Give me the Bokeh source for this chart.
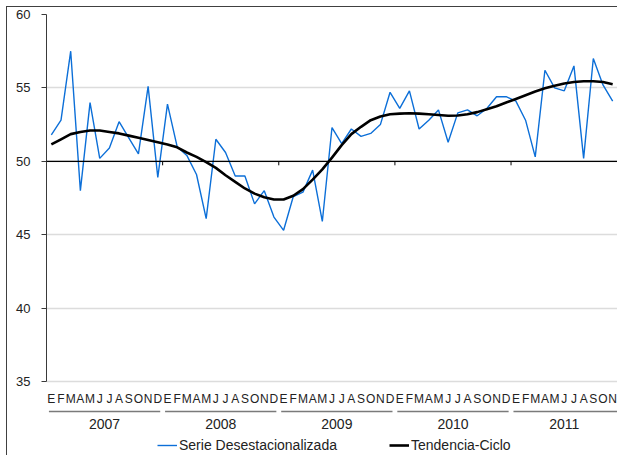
from bokeh.plotting import figure
from bokeh.models import FixedTicker, Legend, LegendItem, Range1d, Span
from bokeh.embed import file_html
from bokeh.resources import INLINE
from bokeh.core.properties import value

# ---------------- data ----------------
month_letters = ["E", "F", "M", "A", "M", "J", "J", "A", "S", "O", "N", "D"]
years = ["2007", "2008", "2009", "2010", "2011"]
y_ticks = [35, 40, 45, 50, 55, 60]

serie = [
    51.8, 52.8, 57.5, 48.0, 54.0, 50.2, 50.9, 52.7, 51.6, 50.5, 55.1, 48.9,   # 2007
    53.9, 51.0, 50.4, 49.1, 46.1, 51.5, 50.6, 49.0, 49.0, 47.1, 48.0, 46.2,   # 2008
    45.3, 47.6, 47.9, 49.4, 45.9, 52.3, 51.2, 52.2, 51.7, 51.9, 52.5, 54.7,   # 2009
    53.6, 54.8, 52.2, 52.8, 53.5, 51.3, 53.3, 53.5, 53.1, 53.6, 54.4, 54.4,   # 2010
    54.1, 52.8, 50.3, 56.2, 55.0, 54.8, 56.5, 50.2, 57.0, 55.2, 54.1,         # 2011
]
tendencia = [
    51.15, 51.5, 51.85, 52.0, 52.1, 52.1, 52.0, 51.9, 51.75, 51.6, 51.45, 51.3,
    51.15, 50.95, 50.6, 50.3, 49.95, 49.55, 49.05, 48.6, 48.15, 47.8, 47.55, 47.4,
    47.4, 47.65, 48.1, 48.75, 49.45, 50.25, 51.1, 51.85, 52.35, 52.8, 53.05, 53.2,
    53.25, 53.27, 53.25, 53.2, 53.15, 53.1, 53.12, 53.2, 53.35, 53.55, 53.75, 54.0,
    54.25, 54.5, 54.75, 54.97, 55.15, 55.3, 55.4, 55.45, 55.45, 55.4, 55.25,
]

n = len(serie)
xs = list(range(n))

# ---------------- layout ----------------
Y_MIN, Y_MAX = 35, 60
W, H = 610, 448
B_LEFT, B_TOP = 39, 7
axis_px = 367                      # pixels between 35 and 60
frame_h = H - B_TOP
px = axis_px / (Y_MAX - Y_MIN)
y_start = Y_MAX - frame_h / px

FONT = "Liberation Sans"
BLUE = "#0c6fd8"

p = figure(width=W, height=H, output_backend="svg", toolbar_location=None,
           x_range=Range1d(-0.5, n - 0.5), y_range=Range1d(y_start, Y_MAX),
           x_axis_location=None, min_border_left=B_LEFT, min_border_right=0,
           min_border_top=B_TOP, min_border_bottom=0)
p.margin = (7, 0, 0, 7)
p.styles = {"outline": "1px solid #404040"}
p.outline_line_color = None
p.background_fill_color = "white"
p.border_fill_color = "white"

# y axis
yax = p.yaxis[0]
yax.ticker = FixedTicker(ticks=y_ticks)
yax.bounds = (Y_MIN, Y_MAX)
yax.major_tick_out = 5
yax.major_tick_in = 0
yax.minor_tick_out = 0
yax.minor_tick_in = 0
yax.axis_line_color = "#3a3a3a"
yax.major_tick_line_color = "#3a3a3a"
yax.major_label_standoff = 11
yax.major_label_text_font = FONT
yax.major_label_text_font_size = "13px"
yax.major_label_text_color = "#222222"

p.ygrid.ticker = FixedTicker(ticks=y_ticks)
p.ygrid.grid_line_color = "#dcdcdc"
p.ygrid.grid_line_width = 1.5
p.xgrid.visible = False

# category axis line at 50
p.add_layout(Span(location=50, dimension="width", line_color="black", line_width=1.2))

# year-boundary ticks on the 50 line
bounds_x = [12 * k - 0.5 for k in range(1, len(years))]
p.segment(x0=bounds_x, x1=bounds_x, y0=[50] * len(bounds_x),
          y1=[50 - 4 / px] * len(bounds_x), line_color="black", line_width=1)

# series
r1 = p.line(xs, serie, line_color=BLUE, line_width=1.4)
r2 = p.line(xs, tendencia, line_color="black", line_width=2.6, line_join="round")

# month letters
p.text(x=xs, y=[Y_MIN] * n, text=[month_letters[i % 12] for i in xs],
       y_offset=17, text_align="center", text_baseline="middle",
       text_font=value(FONT), text_font_size="12px", text_color="#222222")

# year separators and labels
sep_y = Y_MIN - 30 / px
y0s, y1s, centers = [], [], []
for k, yr in enumerate(years):
    months_in = [i for i in xs if i // 12 == k]
    y0s.append(12 * k - 0.5 + 0.25)
    y1s.append(12 * k + 11.5 - 0.25)
    centers.append(sum(months_in) / len(months_in))
p.segment(x0=y0s, x1=y1s, y0=[sep_y] * len(years), y1=[sep_y] * len(years),
          line_color="#7a7a7a", line_width=1.6)
p.text(x=centers, y=[Y_MIN] * len(years), text=years, y_offset=42,
       text_align="center", text_baseline="middle",
       text_font=value(FONT), text_font_size="14px", text_color="#222222")

# legend
legend = Legend(items=[LegendItem(label="Serie Desestacionalizada", renderers=[r1]),
                       LegendItem(label="Tendencia-Ciclo", renderers=[r2])],
                orientation="horizontal", location=(111, 2),
                border_line_color=None, background_fill_alpha=0,
                padding=0, margin=0, spacing=52, glyph_width=20, glyph_height=14,
                label_height=14, label_standoff=2,
                label_text_font=FONT, label_text_font_size="14px",
                label_text_color="#222222")
p.add_layout(legend)

open("out.html", "w").write(file_html(p, INLINE))
